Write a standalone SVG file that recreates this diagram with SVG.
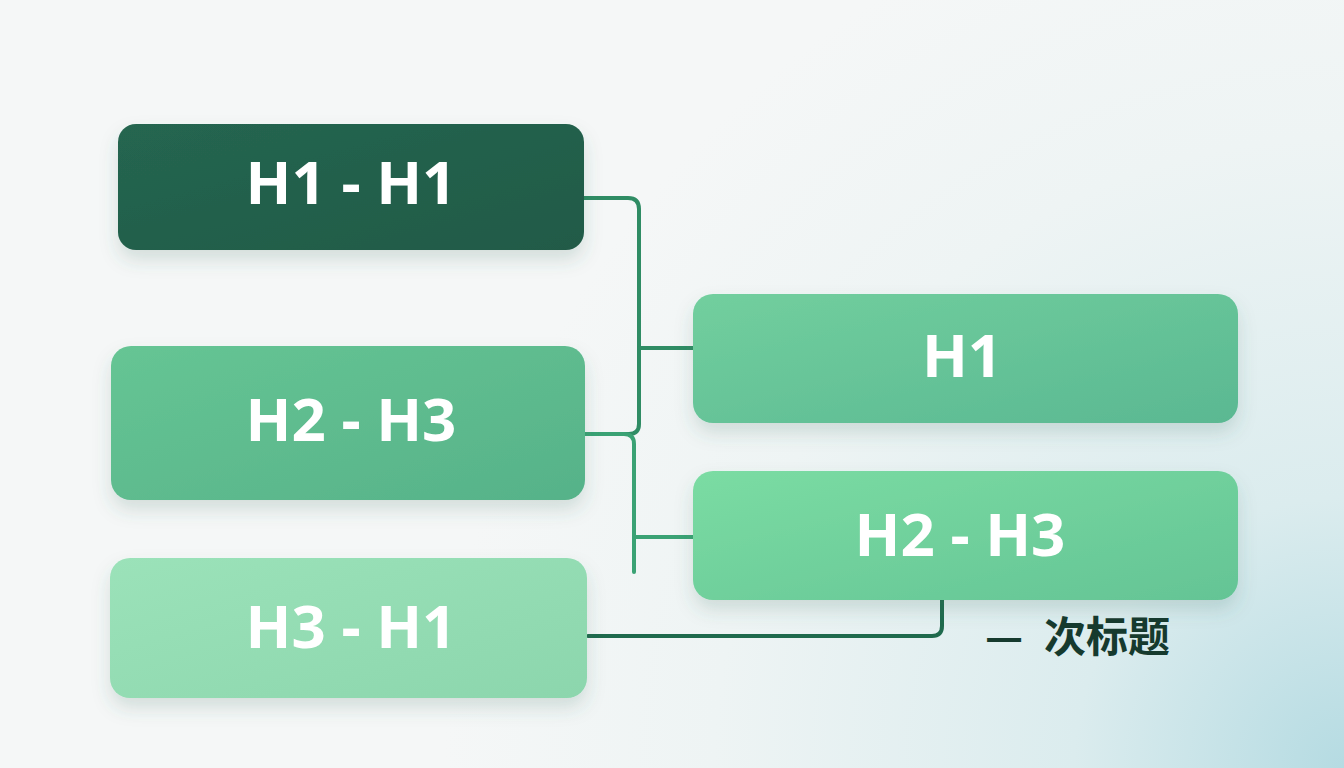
<svg xmlns="http://www.w3.org/2000/svg" width="1344" height="768" viewBox="0 0 1344 768">
  <defs>
    <radialGradient id="bg" cx="1344" cy="768" r="900" gradientUnits="userSpaceOnUse">
      <stop offset="0" stop-color="#b5dbe2"/>
      <stop offset="0.3" stop-color="#dbecee"/>
      <stop offset="0.7" stop-color="#eef4f4"/>
      <stop offset="1" stop-color="#f5f7f7"/>
    </radialGradient>
    <linearGradient id="g1" x1="0" y1="0" x2="1" y2="1">
      <stop offset="0" stop-color="#256650"/>
      <stop offset="1" stop-color="#215a47"/>
    </linearGradient>
    <linearGradient id="g2" x1="0" y1="0" x2="1" y2="1">
      <stop offset="0" stop-color="#66c594"/>
      <stop offset="1" stop-color="#56b289"/>
    </linearGradient>
    <linearGradient id="g3" x1="0" y1="0" x2="1" y2="1">
      <stop offset="0" stop-color="#9be2b9"/>
      <stop offset="1" stop-color="#8cd6ad"/>
    </linearGradient>
    <linearGradient id="g4" x1="0" y1="0" x2="1" y2="1">
      <stop offset="0" stop-color="#72cf9e"/>
      <stop offset="1" stop-color="#5ab892"/>
    </linearGradient>
    <linearGradient id="g5" x1="0" y1="0" x2="1" y2="1">
      <stop offset="0" stop-color="#7bdca3"/>
      <stop offset="1" stop-color="#64c495"/>
    </linearGradient>
    <filter id="sh" x="-10%" y="-20%" width="120%" height="150%">
      <feDropShadow dx="0" dy="10" stdDeviation="9" flood-color="#3a6a5e" flood-opacity="0.18"/>
    </filter>
  </defs>
  <style>
    .box { filter: url(#sh); }
    .lbl { font-family: "Noto Sans", "Liberation Sans", sans-serif; font-weight: 700; font-size: 60px; fill: #ffffff; text-anchor: middle; }
    .conn { fill: none; stroke-width: 4; stroke-linecap: round; stroke-linejoin: round; }
    .c1 { stroke: #2f8c64; }
    .c2 { stroke: #3aa274; }
    .c3 { stroke: #1f6a4d; }
    .sub { font-family: "Noto Sans CJK SC", "Noto Sans", sans-serif; font-weight: 700; font-size: 42px; fill: #163a2e; }
  </style>
  <rect width="1344" height="768" fill="url(#bg)"/>

  <g id="connectors">
    <path class="conn c1" d="M584 198 H628 Q639 198 639 209 V424 Q639 434 629 434 H585"/>
    <path class="conn c1" d="M639 348 H693"/>
    <path class="conn c2" d="M585 434 H624 Q634 434 634 444 V572"/>
    <path class="conn c2" d="M634 537 H693"/>
    <path class="conn c3" d="M588 636 H932 Q942 636 942 626 V600"/>
  </g>

  <g id="node-h1-h1">
    <rect class="box" x="118" y="124" width="466" height="126" rx="18" fill="url(#g1)"/>
    <text class="lbl" x="351" y="204">H1 - H1</text>
  </g>
  <g id="node-left-h2-h3">
    <rect class="box" x="111" y="346" width="474" height="154" rx="20" fill="url(#g2)"/>
    <text class="lbl" x="351" y="441">H2 - H3</text>
  </g>
  <g id="node-h3-h1">
    <rect class="box" x="110" y="558" width="477" height="140" rx="20" fill="url(#g3)"/>
    <text class="lbl" x="351" y="648">H3 - H1</text>
  </g>
  <g id="node-right-h1">
    <rect class="box" x="693" y="294" width="545" height="129" rx="20" fill="url(#g4)"/>
    <text class="lbl" x="962" y="377">H1</text>
  </g>
  <g id="node-right-h2-h3">
    <rect class="box" x="693" y="471" width="545" height="129" rx="20" fill="url(#g5)"/>
    <text class="lbl" x="960" y="556">H2 - H3</text>
  </g>
  <g id="label-sub">
    <text class="sub" x="985" y="652">—<tspan x="1044">次标题</tspan></text>
  </g>
</svg>
